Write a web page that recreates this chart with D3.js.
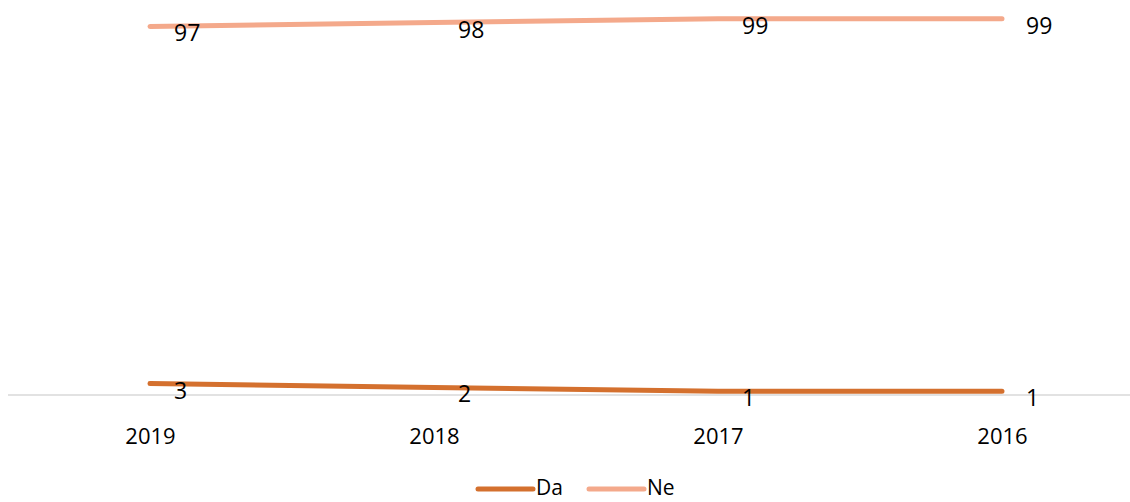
<!DOCTYPE html>
<html>
<head>
<meta charset="utf-8">
<script src="https://cdn.jsdelivr.net/npm/d3@7"></script>
<style>
  html, body { margin: 0; padding: 0; background: #fff; }
  svg { display: block; }
  text { font-family: "Open Sans", "Noto Sans", sans-serif; fill: #000; }
</style>
</head>
<body>
<svg id="chart" width="1130" height="502"></svg>
<script>
const categories = ["2019", "2018", "2017", "2016"];
const daValues = [3, 2, 1, 1];
const neValues = [97, 98, 99, 99];
const seriesNames = ["Da", "Ne"];
const seriesColors = ["#d4702e", "#f4a98b"];

const svg = d3.select("#chart");

const x = d3.scalePoint().domain(categories).range([150, 1002]);
const y = d3.scaleLinear().domain([0, 100]).range([395, 15]);

const series = [
  { name: seriesNames[0], values: daValues, color: seriesColors[0] },
  { name: seriesNames[1], values: neValues, color: seriesColors[1] }
];

// baseline axis
const step = x.step();
svg.append("line")
  .attr("x1", x(categories[0]) - step / 2)
  .attr("x2", x(categories[categories.length - 1]) + step / 2)
  .attr("y1", y(0)).attr("y2", y(0))
  .attr("stroke", "#d9d9d9").attr("stroke-width", 1.5);

// x axis labels
const xAxis = d3.axisBottom(x).tickSize(0).tickPadding(0);
const gx = svg.append("g").attr("transform", `translate(0,${y(0)})`).call(xAxis);
gx.select(".domain").remove();
gx.selectAll("text")
  .attr("y", 49).attr("dy", "0")
  .style("font-size", "22px")
  .style("font-family", "'Open Sans', sans-serif")
  .attr("fill", "#000");

const line = d3.line()
  .x((d, i) => x(categories[i]))
  .y(d => y(d));

series.forEach(s => {
  svg.append("path")
    .datum(s.values)
    .attr("d", line)
    .attr("fill", "none")
    .attr("stroke", s.color)
    .attr("stroke-width", 5)
    .attr("stroke-linecap", "round")
    .attr("stroke-linejoin", "round");
});

// data labels
series.forEach(s => {
  svg.append("g").selectAll("text")
    .data(s.values)
    .join("text")
    .attr("x", (d, i) => x(categories[i]) + 24)
    .attr("y", d => y(d) + 15)
    .style("font-size", "23px")
    .text(d => d);
});

// legend
const legend = svg.append("g");
const legendItems = [
  { name: seriesNames[0], color: seriesColors[0], x0: 478 },
  { name: seriesNames[1], color: seriesColors[1], x0: 589 }
];
legendItems.forEach(it => {
  legend.append("line")
    .attr("x1", it.x0).attr("x2", it.x0 + 55)
    .attr("y1", 489).attr("y2", 489)
    .attr("stroke", it.color).attr("stroke-width", 5)
    .attr("stroke-linecap", "round");
  legend.append("text")
    .attr("x", it.x0 + 58).attr("y", 495)
    .style("font-size", "21px")
    .text(it.name);
});
</script>
</body>
</html>
